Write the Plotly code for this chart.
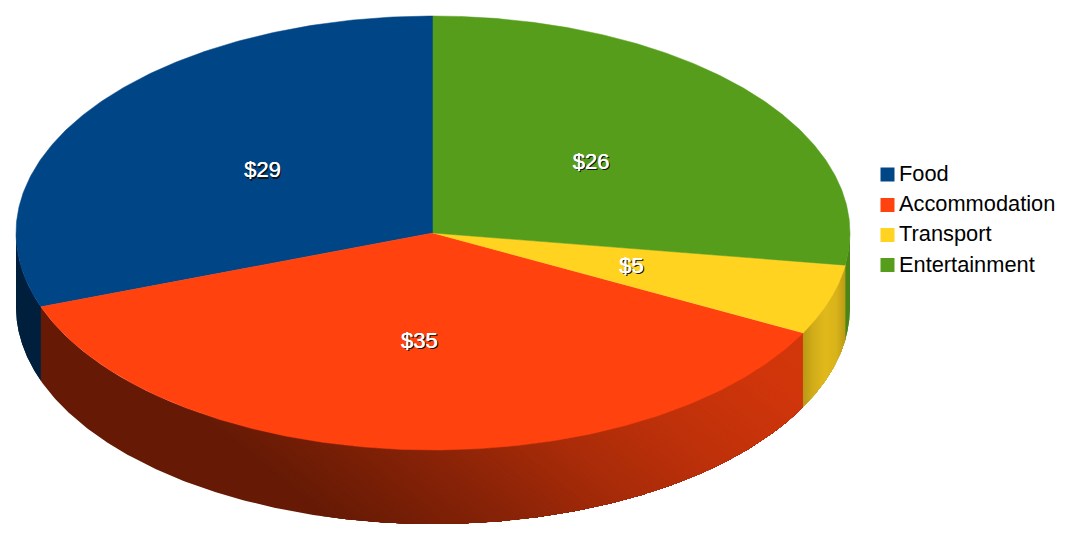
import numpy as np
import plotly.graph_objects as go

categories = ["Food", "Accommodation", "Transport", "Entertainment"]
values = [29, 35, 5, 26]
labels = ["$29", "$35", "$5", "$26"]
colors = [(0, 69, 134), (255, 66, 14), (255, 211, 32), (87, 157, 28)]

# ellipse of the pie in pixels
cx, cy = 433, 233
rx, ry = 417, 217
depth = 74

# how dark the rim gets, one set of stops per slice
shade_x = [[16, 41], [240, 424, 560, 700, 860, 950], [802, 812, 825, 836, 846], [846, 850]]
shade_k = [[0.46, 0.46], [0.40, 0.54, 0.66, 0.75, 0.82, 0.83], [0.72, 0.82, 0.88, 0.85, 0.72], [0.85, 0.85]]
# the light on the red slice runs on a slant
shade_slant = [0, 1.25, 0, 0]
rim_bands = [1, 110, 40, 1]

font = "Liberation Sans"


def px(t):
    return cx - rx * np.sin(np.radians(t))


def py(t):
    return cy - ry * np.cos(np.radians(t))


def rgb(c, k=1):
    return "rgb(%d,%d,%d)" % (c[0] * k, c[1] * k, c[2] * k)


def clip_rim(xs, ys, c, slant):
    # keep the part of the polygon right of the slanted line
    f = xs - slant * (ys - 450) - c
    out_x, out_y = [], []
    for j in range(len(xs)):
        n = (j + 1) % len(xs)
        if f[j] >= 0:
            out_x.append(xs[j])
            out_y.append(ys[j])
        if (f[j] >= 0) != (f[n] >= 0):
            p = f[j] / (f[j] - f[n])
            out_x.append(xs[j] + p * (xs[n] - xs[j]))
            out_y.append(ys[j] + p * (ys[n] - ys[j]))
    return out_x, out_y


fig = go.Figure()

angles = np.cumsum([0] + values) / sum(values) * 360

# rim first, each band painted over the last so no seams show
for i in range(len(values)):
    a = max(angles[i], 90)
    b = min(angles[i + 1], 270)
    if b <= a:
        continue
    ts = np.linspace(a, b, 300)
    rim_x = np.concatenate([px(ts), px(ts[::-1])])
    rim_y = np.concatenate([py(ts), py(ts[::-1]) + depth])
    fig.add_trace(go.Scatter(x=rim_x, y=rim_y, mode="lines", fill="toself",
                             fillcolor=rgb(colors[i], shade_k[i][0]), line=dict(width=0),
                             hoverinfo="skip", showlegend=False))
    for c in np.linspace(shade_x[i][0], shade_x[i][-1], rim_bands[i]):
        xs, ys = clip_rim(rim_x, rim_y, c, shade_slant[i])
        if len(xs) == 0:
            continue
        k = np.interp(c, shade_x[i], shade_k[i])
        fig.add_trace(go.Scatter(x=xs, y=ys, mode="lines", fill="toself",
                                 fillcolor=rgb(colors[i], k), line=dict(width=0),
                                 hoverinfo="skip", showlegend=False))

# top face
for i in range(len(values)):
    ts = np.linspace(angles[i], angles[i + 1], 200)
    xs = [cx] + list(px(ts)) + [cx]
    ys = [cy] + list(py(ts)) + [cy]
    fig.add_trace(go.Scatter(x=xs, y=ys, mode="lines", fill="toself",
                             fillcolor=rgb(colors[i]),
                             line=dict(color=rgb(colors[i]), width=0.5),
                             hoverinfo="skip", showlegend=False))

# value labels, half way out along the middle of each slice
mids = (angles[:-1] + angles[1:]) / 2
lx = cx - 0.5 * rx * np.sin(np.radians(mids))
ly = cy - 0.5 * ry * np.cos(np.radians(mids)) + 1
fig.add_trace(go.Scatter(x=lx, y=ly, mode="text", text=labels,
                         textposition="middle center",
                         textfont=dict(family=font, size=22, color="white",
                                       shadow="0.4px 0 0 white, 1.4px 1.4px 0.6px #111111"),
                         hoverinfo="skip", showlegend=False))

# legend on the right
legend_y = [174.5, 205, 235, 265]
text_y = [175.5, 206, 236, 266.5]
for i in range(len(categories)):
    fig.add_trace(go.Scatter(x=[887.5], y=[legend_y[i]], mode="markers",
                             marker=dict(symbol="square", size=14, color=rgb(colors[i])),
                             name=categories[i], hoverinfo="skip", showlegend=False))
    fig.add_trace(go.Scatter(x=[899], y=[text_y[i]], mode="text",
                             text=[categories[i]], textposition="middle right",
                             textfont=dict(family=font, size=21.8, color="black"),
                             hoverinfo="skip", showlegend=False))

fig.update_layout(width=1065, height=548, margin=dict(l=0, r=0, t=0, b=0),
                  paper_bgcolor="white", plot_bgcolor="white", showlegend=False,
                  xaxis=dict(range=[0, 1065], visible=False, fixedrange=True),
                  yaxis=dict(range=[548, 0], visible=False, fixedrange=True))
fig.write_html("out.html", config=dict(displayModeBar=False),
               post_script="document.body.style.margin = '0';")
